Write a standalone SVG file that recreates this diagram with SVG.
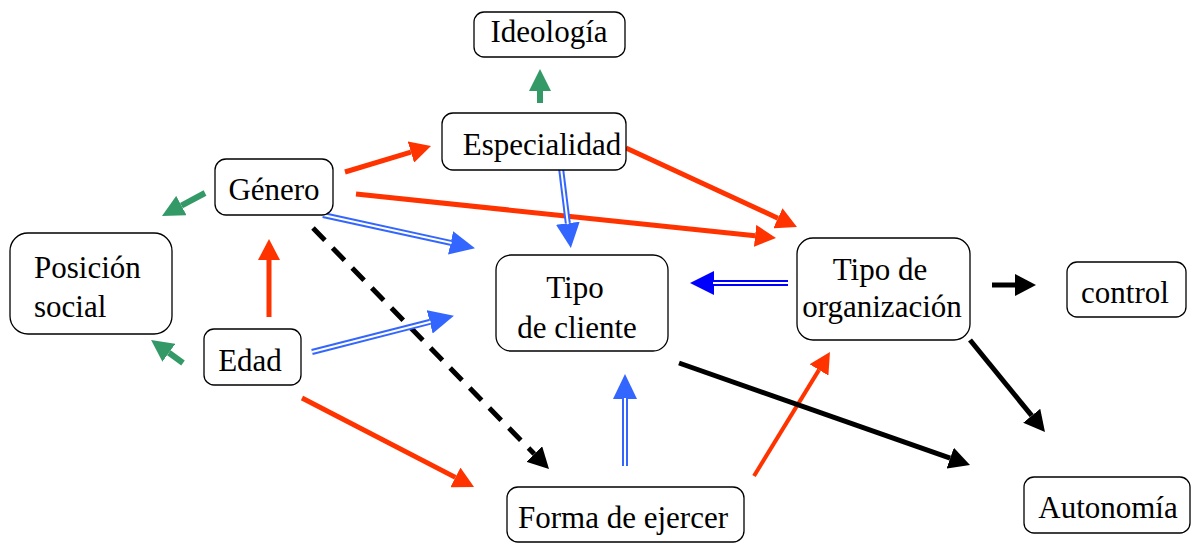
<svg xmlns="http://www.w3.org/2000/svg" width="1194" height="543" viewBox="0 0 1194 543">
<style>
.box{fill:#fff;stroke:#000;stroke-width:1.3}
.t{font-size:31px;fill:#000;text-anchor:middle}
.tl{text-anchor:start}
.red{stroke:#FF3300;stroke-width:5;fill:none}
.grn{stroke:#339966;stroke-width:6;fill:none}
.blk{stroke:#000;stroke-width:5;fill:none}
.dash{stroke-dasharray:17 11}
.blu{stroke:#3366FF;stroke-width:6;fill:none}
.dblu{stroke:#0000FF;stroke-width:6;fill:none}
.gap{stroke:#fff;stroke-width:2;fill:none}
</style>
<defs>
<marker id="hr" markerUnits="userSpaceOnUse" markerWidth="22" markerHeight="22" refX="0" refY="11" orient="auto" viewBox="0 0 22 22"><path d="M0,0 L21,11 L0,22 z" fill="#FF3300"/></marker>
<marker id="hg" markerUnits="userSpaceOnUse" markerWidth="23" markerHeight="22" refX="0" refY="11" orient="auto" viewBox="0 0 23 22"><path d="M0,0 L22,11 L0,22 z" fill="#339966"/></marker>
<marker id="hk" markerUnits="userSpaceOnUse" markerWidth="22" markerHeight="22" refX="0" refY="11" orient="auto" viewBox="0 0 22 22"><path d="M0,0 L21,11 L0,22 z" fill="#000"/></marker>
<marker id="hb" markerUnits="userSpaceOnUse" markerWidth="26" markerHeight="24" refX="0" refY="12" orient="auto" viewBox="0 0 26 24"><path d="M0,0 L25,12 L0,24 z" fill="#3366FF"/></marker>
<marker id="hd" markerUnits="userSpaceOnUse" markerWidth="26" markerHeight="24" refX="0" refY="12" orient="auto" viewBox="0 0 26 24"><path d="M0,0 L24,12 L0,24 z" fill="#0000FF"/></marker>
</defs>

<g id="connectors">
<line class="grn" x1="540" y1="103" x2="540" y2="91" marker-end="url(#hg)"/>
<line class="grn" x1="205" y1="193" x2="181.4" y2="205.6" marker-end="url(#hg)"/>
<line class="grn" x1="183" y1="363" x2="168.9" y2="352.8" marker-end="url(#hg)"/>

<line class="red" x1="345" y1="172" x2="410.9" y2="152.1" marker-end="url(#hr)"/>
<line class="red" x1="356" y1="194" x2="755.1" y2="235.8" marker-end="url(#hr)"/>
<line class="red" x1="626" y1="148" x2="777.9" y2="218.2" marker-end="url(#hr)"/>
<line class="red" x1="269" y1="317" x2="269" y2="260" marker-end="url(#hr)"/>
<line class="red" x1="302" y1="398" x2="455.4" y2="477.4" marker-end="url(#hr)"/>
<line class="red" style="stroke-width:4" x1="754" y1="476" x2="819" y2="369.9" marker-end="url(#hr)"/>

<line class="blk dash" x1="313" y1="228" x2="534.3" y2="454" marker-end="url(#hk)"/>
<line class="blk" x1="679" y1="363" x2="950.2" y2="458.1" marker-end="url(#hk)"/>
<line class="blk" x1="992" y1="285" x2="1015" y2="285" marker-end="url(#hk)"/>
<line class="blk" x1="970" y1="340" x2="1031.7" y2="415.7" marker-end="url(#hk)"/>

<line class="blu" x1="323" y1="215" x2="450.6" y2="242.9" marker-end="url(#hb)"/>
<line class="gap" x1="323" y1="215" x2="451.6" y2="243.1"/>
<line class="blu" x1="561" y1="168" x2="567.8" y2="223.2" marker-end="url(#hb)"/>
<line class="gap" x1="561" y1="168" x2="567.9" y2="224.2"/>
<line class="blu" x1="312" y1="352" x2="429.7" y2="321.9" marker-end="url(#hb)"/>
<line class="gap" x1="312" y1="352" x2="430.7" y2="321.7"/>
<line class="dblu" x1="788" y1="283" x2="714" y2="283" marker-end="url(#hd)"/>
<line class="gap" x1="788" y1="283" x2="713" y2="283"/>
<line class="blu" x1="625" y1="466" x2="625" y2="399" marker-end="url(#hb)"/>
<line class="gap" x1="625" y1="466" x2="625" y2="398"/>
</g>

<g font-family="Liberation Serif, serif">
<g id="ideologia">
<rect class="box" x="474" y="12" width="151" height="45" rx="10"/>
<text class="t" x="549" y="42">Ideología</text>
</g>
<g id="especialidad">
<rect class="box" x="442" y="113" width="184" height="57" rx="11"/>
<text class="t" x="542" y="155">Especialidad</text>
</g>
<g id="genero">
<rect class="box" x="215" y="159" width="118" height="56" rx="11"/>
<text class="t" x="274" y="200">Género</text>
</g>
<g id="edad">
<rect class="box" x="204" y="329" width="97" height="56" rx="10"/>
<text class="t" x="250" y="371">Edad</text>
</g>
<g id="posicion-social">
<rect class="box" x="10" y="233" width="162" height="101" rx="18"/>
<text class="t tl" x="34" y="278">Posición</text>
<text class="t tl" x="34" y="317">social</text>
</g>
<g id="tipo-cliente">
<rect class="box" x="496" y="255" width="172" height="96" rx="15"/>
<text class="t" x="575" y="298">Tipo</text>
<text class="t" x="577" y="338">de cliente</text>
</g>
<g id="tipo-organizacion">
<rect class="box" x="797" y="238" width="173" height="102" rx="16"/>
<text class="t" x="880" y="280">Tipo de</text>
<text class="t" x="882" y="317">organización</text>
</g>
<g id="control">
<rect class="box" x="1067" y="262" width="119" height="55" rx="10"/>
<text class="t" x="1125" y="303">control</text>
</g>
<g id="autonomia">
<rect class="box" x="1024" y="477" width="166" height="56" rx="10"/>
<text class="t" x="1108" y="518">Autonomía</text>
</g>
<g id="forma-ejercer">
<rect class="box" x="507" y="487" width="237" height="55" rx="11"/>
<text class="t" x="623" y="528">Forma de ejercer</text>
</g>
</g>
</svg>
